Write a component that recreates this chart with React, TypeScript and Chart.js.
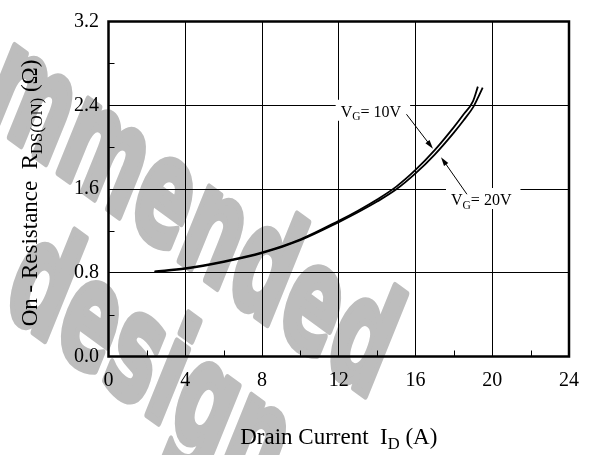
import React, { useEffect, useRef } from "react";
import { Chart, registerables } from "chart.js";
Chart.register(...registerables);

const WIDTH = 591;
const HEIGHT = 455;

// ---- data ----
const xTickValues = [0, 4, 8, 12, 16, 20, 24];
const yTickValues = [0.0, 0.8, 1.6, 2.4, 3.2];

const current10V = [2.4, 4, 6, 8, 10, 12, 13, 14, 15, 16, 17, 18, 18.5, 19, 19.25];
const resistance10V = [0.814, 0.844, 0.909, 0.994, 1.119, 1.296, 1.393, 1.5, 1.623, 1.782, 1.971, 2.191, 2.311, 2.44, 2.578];

const current20V = [2.4, 4, 6, 8, 10, 12, 13, 14, 15, 16, 17, 18, 18.5, 19, 19.25, 19.5];
const resistance20V = [0.807, 0.837, 0.902, 0.987, 1.112, 1.284, 1.378, 1.48, 1.597, 1.749, 1.929, 2.139, 2.255, 2.38, 2.47, 2.568];

// ---- text ----
type Seg = { t: string; sub?: boolean };
const xTitle: Seg[] = [{ t: "Drain Current  I" }, { t: "D", sub: true }, { t: " (A)" }];
const yTitle: Seg[] = [{ t: "On - Resistance  R" }, { t: "DS(ON)", sub: true }, { t: " (\u03A9)" }];
const label10V: Seg[] = [{ t: "V" }, { t: "G", sub: true }, { t: "= 10V" }];
const label20V: Seg[] = [{ t: "V" }, { t: "G", sub: true }, { t: "= 20V" }];
const watermarkLines = ["Recommended", "design"];

// annotation anchors in data units
const annotations = [
  { segs: label10V, at: [12.1, 2.29], tail: [15.53, 2.314], tip: [16.91, 1.984] },
  { segs: label20V, at: [17.85, 1.447], tail: [18.68, 1.55], tip: [17.33, 1.904] },
];

const SERIF = '"Liberation Serif", "Times New Roman", Times, serif';

function drawRich(
  ctx: CanvasRenderingContext2D,
  segs: Seg[],
  size: number,
  x: number,
  y: number,
  align: "left" | "center"
) {
  const subSize = size * 0.72;
  const widths = segs.map((s) => {
    ctx.font = `${s.sub ? subSize : size}px ${SERIF}`;
    return ctx.measureText(s.t).width;
  });
  const total = widths.reduce((a, b) => a + b, 0);
  let cx = align === "center" ? x - total / 2 : x;
  ctx.textBaseline = "alphabetic";
  ctx.textAlign = "left";
  segs.forEach((s, i) => {
    ctx.font = `${s.sub ? subSize : size}px ${SERIF}`;
    ctx.fillText(s.t, cx, s.sub ? y + size * 0.22 : y);
    cx += widths[i];
  });
  return total;
}

function drawWatermark(ctx: CanvasRenderingContext2D) {
  const theta = (36 * Math.PI) / 180;
  const lean = (22 * Math.PI) / 180;
  const sx = 0.68;
  const sy = 1.12;
  ctx.save();
  ctx.fillStyle = "#bdbdbd";
  ctx.strokeStyle = "#bdbdbd";
  ctx.lineJoin = "round";
  ctx.lineWidth = 7;
  ctx.font = 'bold 128px "DejaVu Sans", sans-serif';
  ctx.textBaseline = "alphabetic";
  const a = sx * Math.cos(theta);
  const b = sx * Math.sin(theta);
  const c = -sy * Math.sin(lean);
  const d = sy * Math.cos(lean);
  ctx.setTransform(a, b, c, d, 372, 400);
  ctx.textAlign = "right";
  ctx.fillText(watermarkLines[0], 0, 0);
  ctx.strokeText(watermarkLines[0], 0, 0);
  ctx.setTransform(a, b, c, d, 1, 308);
  ctx.textAlign = "left";
  ctx.fillText(watermarkLines[1], 0, 0);
  ctx.strokeText(watermarkLines[1], 0, 0);
  ctx.restore();
}

const decorPlugin = {
  id: "decor",
  beforeDraw(chart: any) {
    const ctx: CanvasRenderingContext2D = chart.ctx;
    ctx.save();
    ctx.fillStyle = "#fff";
    ctx.fillRect(0, 0, chart.width, chart.height);
    ctx.restore();
    drawWatermark(ctx);
  },
  afterDraw(chart: any) {
    const ctx: CanvasRenderingContext2D = chart.ctx;
    const area = chart.chartArea;
    const xs = chart.scales.x;
    const ys = chart.scales.y;
    ctx.save();
    // minor ticks
    ctx.strokeStyle = "#000";
    ctx.lineWidth = 1;
    for (let i = 0; i < xTickValues.length - 1; i++) {
      const v = (xTickValues[i] + xTickValues[i + 1]) / 2;
      const px = Math.round(xs.getPixelForValue(v)) + 0.5;
      ctx.beginPath();
      ctx.moveTo(px, area.bottom);
      ctx.lineTo(px, area.bottom - 6);
      ctx.stroke();
    }
    for (let i = 0; i < yTickValues.length - 1; i++) {
      const v = (yTickValues[i] + yTickValues[i + 1]) / 2;
      const py = Math.round(ys.getPixelForValue(v)) + 0.5;
      ctx.beginPath();
      ctx.moveTo(area.left, py);
      ctx.lineTo(area.left + 6, py);
      ctx.stroke();
    }
    // frame
    ctx.lineWidth = 2.5;
    ctx.strokeRect(area.left, area.top, area.right - area.left, area.bottom - area.top);

    // annotations
    for (const an of annotations) {
      const tx = xs.getPixelForValue(an.at[0]);
      const ty = ys.getPixelForValue(an.at[1]);
      let w = 0;
      an.segs.forEach((s) => {
        ctx.font = `${s.sub ? 16 * 0.72 : 16}px ${SERIF}`;
        w += ctx.measureText(s.t).width;
      });
      ctx.fillStyle = "#fff";
      ctx.fillRect(tx - 5, ty - 17, w + 14, 21);
      ctx.fillStyle = "#000";
      drawRich(ctx, an.segs, 16, tx, ty, "left");
      // arrow
      const x1 = xs.getPixelForValue(an.tail[0]);
      const y1 = ys.getPixelForValue(an.tail[1]);
      const x2 = xs.getPixelForValue(an.tip[0]);
      const y2 = ys.getPixelForValue(an.tip[1]);
      const ang = Math.atan2(y2 - y1, x2 - x1);
      const hl = 9;
      const hw = 2.6;
      ctx.strokeStyle = "#000";
      ctx.lineWidth = 1;
      ctx.beginPath();
      ctx.moveTo(x1, y1);
      ctx.lineTo(x2 - Math.cos(ang) * hl * 0.8, y2 - Math.sin(ang) * hl * 0.8);
      ctx.stroke();
      ctx.beginPath();
      ctx.moveTo(x2, y2);
      ctx.lineTo(
        x2 - Math.cos(ang) * hl - Math.sin(ang) * hw,
        y2 - Math.sin(ang) * hl + Math.cos(ang) * hw
      );
      ctx.lineTo(
        x2 - Math.cos(ang) * hl + Math.sin(ang) * hw,
        y2 - Math.sin(ang) * hl - Math.cos(ang) * hw
      );
      ctx.closePath();
      ctx.fill();
    }

    // axis titles
    ctx.fillStyle = "#000";
    drawRich(ctx, xTitle, 23, (area.left + area.right) / 2, chart.height - 11, "center");
    ctx.translate(37, (area.top + area.bottom) / 2 + 4);
    ctx.rotate(-Math.PI / 2);
    drawRich(ctx, yTitle, 23, 0, 0, "center");
    ctx.restore();
  },
};

export default function App() {
  const ref = useRef<HTMLCanvasElement | null>(null);
  useEffect(() => {
    const canvas = ref.current;
    if (!canvas) return;
    const lineStyle = {
      showLine: true,
      borderColor: "#000",
      borderWidth: 1.8,
      pointRadius: 0,
      cubicInterpolationMode: "monotone",
      fill: false,
    };
    const chart = new Chart(canvas, {
      type: "scatter",
      data: {
        datasets: [
          {
            label: "VG = 10V",
            data: current10V.map((x, i) => ({ x, y: resistance10V[i] })),
            ...lineStyle,
          },
          {
            label: "VG = 20V",
            data: current20V.map((x, i) => ({ x, y: resistance20V[i] })),
            ...lineStyle,
          },
        ],
      },
      options: {
        responsive: false,
        animation: false,
        devicePixelRatio: 1,
        events: [],
        layout: { padding: { top: 17, right: 22, left: 0, bottom: 0 } },
        plugins: {
          legend: { display: false },
          tooltip: { enabled: false },
          title: { display: false },
        },
        scales: {
          x: {
            type: "linear",
            min: 0,
            max: 24,
            afterBuildTicks: (s: any) => {
              s.ticks = xTickValues.map((value) => ({ value }));
            },
            afterFit: (s: any) => {
              s.height = 98.5;
            },
            grid: { color: "#000", lineWidth: 1, drawTicks: false },
            border: { display: false },
            ticks: {
              color: "#000",
              font: { family: SERIF, size: 20 },
              padding: 12,
              maxRotation: 0,
              autoSkip: false,
              callback: (v: any) => String(v),
            },
          },
          y: {
            type: "linear",
            min: 0,
            max: 3.2,
            afterBuildTicks: (s: any) => {
              s.ticks = yTickValues.map((value) => ({ value }));
            },
            afterFit: (s: any) => {
              s.width = 108.5;
            },
            grid: { color: "#000", lineWidth: 1, drawTicks: false },
            border: { display: false },
            ticks: {
              color: "#000",
              font: { family: SERIF, size: 20 },
              padding: 9.5,
              autoSkip: false,
              callback: (v: any) => Number(v).toFixed(1),
            },
          },
        },
      },
      plugins: [decorPlugin],
    } as any);
    return () => chart.destroy();
  }, []);
  return (
    <div style={{ position: "fixed", left: 0, top: 0, width: WIDTH, height: HEIGHT, background: "#fff" }}>
      <canvas ref={ref} width={WIDTH} height={HEIGHT} style={{ display: "block" }} />
    </div>
  );
}
